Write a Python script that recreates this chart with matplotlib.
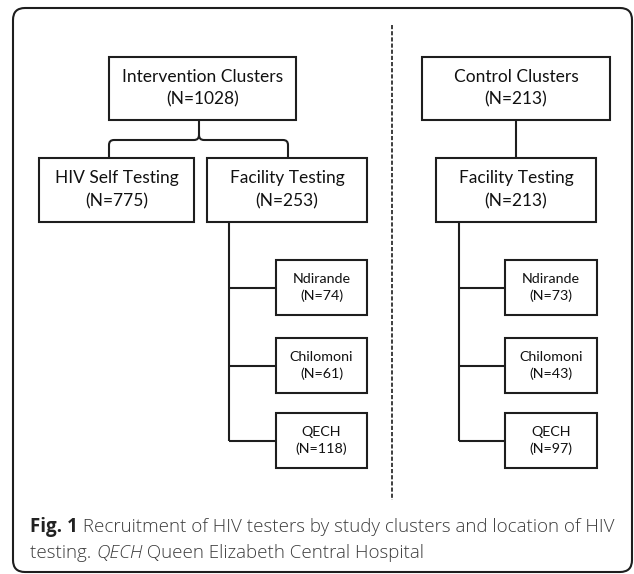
import matplotlib
matplotlib.use("Agg")
import matplotlib.pyplot as plt
from matplotlib.patches import Rectangle, FancyBboxPatch, PathPatch
from matplotlib.path import Path

# ---- data ----
intervention_label = "Intervention Clusters"
intervention_n = 1028
self_label = "HIV Self Testing"
self_n = 775
facility_label = "Facility Testing"
facility_int_n = 253
control_label = "Control Clusters"
control_n = 213
facility_ctrl_n = 213
sites = ["Ndirande", "Chilomoni", "QECH"]
int_site_n = [74, 61, 118]
ctrl_site_n = [73, 43, 97]

W, H = 634, 574
fig = plt.figure(figsize=(W / 100, H / 100), dpi=100)
ax = fig.add_axes([0, 0, 1, 1])
ax.set_xlim(0, W)
ax.set_ylim(H, 0)
ax.axis("off")

LC = "#1e1e1e"
LW = 1.5
BOXFONT = "Lato"


def box(x0, y0, x1, y1, name, n, size, gapfrac=0.18):
    ax.add_patch(Rectangle((x0 + 1.2, y0 + 1.2), x1 - x0, y1 - y0, fc="#c8c8c8",
                           ec="none", zorder=1))
    ax.add_patch(Rectangle((x0, y0), x1 - x0, y1 - y0, fc="white", ec=LC,
                           lw=LW, zorder=2))
    xc = (x0 + x1) / 2
    yc = (y0 + y1) / 2
    gap = (y1 - y0) * gapfrac
    ax.text(xc, yc - gap, name, ha="center", va="center", fontsize=size,
            family=BOXFONT, color="#111111", zorder=3)
    ax.text(xc, yc + gap, f"(N={n})", ha="center", va="center", fontsize=size,
            family=BOXFONT, color="#111111", zorder=3)


def line(xs, ys):
    ax.plot(xs, ys, color=LC, lw=LW, solid_capstyle="butt", zorder=1.5)


# outer frame
ax.add_patch(FancyBboxPatch((13, 8), 619, 564,
                            boxstyle="round,pad=0,rounding_size=12",
                            fc="white", ec=LC, lw=1.5, zorder=0))

# dashed divider
ax.plot([392, 392], [25, 500], color=LC, lw=1.2, ls=(0, (2.5, 1.2)), zorder=1)

# ---- intervention side ----
box(109, 57, 296, 120, intervention_label, intervention_n, 12.5)
box(39, 158, 194, 222, self_label, self_n, 12.5)
box(207, 158, 367, 222, facility_label, facility_int_n, 12.5)

# curly brace
r = 5
verts = [
    (109, 158), (109, 140 + r), (109, 140), (109 + r, 140),
    (199 - r, 140), (199, 140), (199, 140 - r),
    (199, 120),
]
codes = [Path.MOVETO, Path.LINETO, Path.CURVE3, Path.CURVE3,
         Path.LINETO, Path.CURVE3, Path.CURVE3, Path.LINETO]
ax.add_patch(PathPatch(Path(verts, codes), fc="none", ec=LC, lw=LW, zorder=1.5))
verts2 = [
    (288, 158), (288, 140 + r), (288, 140), (288 - r, 140),
    (199 + r, 140), (199, 140), (199, 140 - r),
]
codes2 = [Path.MOVETO, Path.LINETO, Path.CURVE3, Path.CURVE3,
          Path.LINETO, Path.CURVE3, Path.CURVE3]
ax.add_patch(PathPatch(Path(verts2, codes2), fc="none", ec=LC, lw=LW, zorder=1.5))

site_tops = [260, 338, 413]
site_h = 55


def site_tree(xline, xb0, xb1, top_y, counts):
    mids = [t + site_h / 2 for t in site_tops]
    line([xline, xline], [top_y, mids[-1]])
    for t, m, name, n in zip(site_tops, mids, sites, counts):
        line([xline, xb0], [m, m])
        box(xb0, t, xb1, t + site_h, name, n, 10.3, gapfrac=0.155)


site_tree(229, 276, 367, 222, int_site_n)

# ---- control side ----
box(422, 57, 610, 120, control_label, control_n, 12.5)
line([516, 516], [120, 158])
box(436, 158, 596, 222, facility_label, facility_ctrl_n, 12.5)
site_tree(459, 505, 597, 222, ctrl_site_n)

# ---- caption ----
CAPFONT = "Open Sans"
CS = 13.5
CCOL = "#3c3c3c"
fig.canvas.draw()
renderer = fig.canvas.get_renderer()


def runs(x, y, parts):
    for txt, kw in parts:
        t = ax.text(x, y, txt, ha="left", va="center", fontsize=CS,
                    family=CAPFONT, **kw)
        bb = t.get_window_extent(renderer=renderer)
        x += bb.width


runs(30, 527, [("Fig. 1", dict(weight="bold", color="#222222")),
               (" Recruitment of HIV testers by study clusters and location of HIV",
                dict(color=CCOL, weight="light"))])
runs(30, 553, [("testing. ", dict(color=CCOL, weight="light")),
               ("QECH", dict(color=CCOL, style="italic", weight="light")),
               (" Queen Elizabeth Central Hospital", dict(color=CCOL, weight="light"))])

fig.savefig("out.png", dpi=100)
